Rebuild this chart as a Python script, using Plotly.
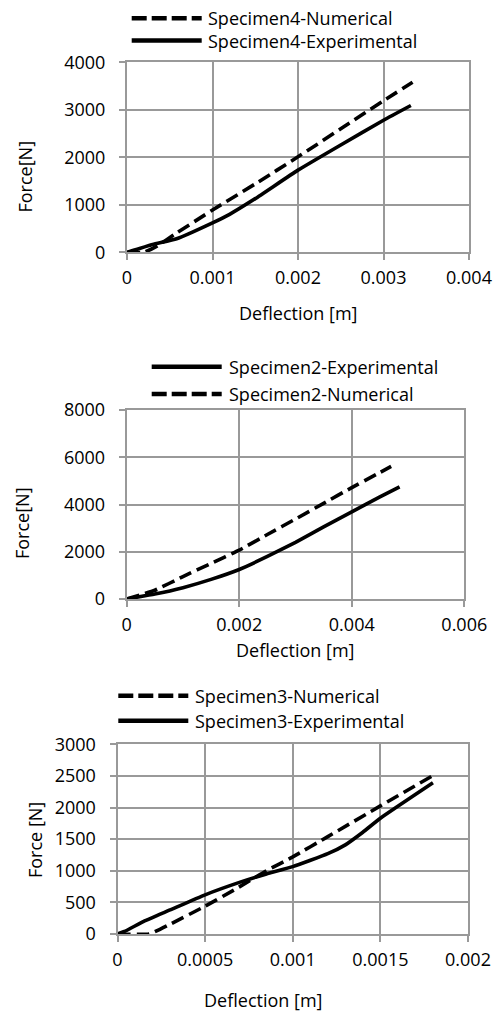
import plotly.graph_objects as go

# ---------------- data ----------------
# Specimen 4 (top chart)
num4_x = [0, 0.0002, 0.00035, 0.00055, 0.001, 0.0015, 0.002, 0.0025, 0.003, 0.00334]
num4_y = [0, 0, 130, 370, 890, 1440, 2010, 2600, 3190, 3580]
exp4_x = [0, 0.0003, 0.00058, 0.001, 0.0012, 0.0015, 0.002, 0.0025, 0.003, 0.00332]
exp4_y = [0, 165, 285, 620, 800, 1130, 1730, 2260, 2780, 3090]

# Specimen 2 (middle chart)
exp2_x = [0, 0.0005, 0.001, 0.0015, 0.002, 0.0025, 0.003, 0.0035, 0.004, 0.0045, 0.00485]
exp2_y = [0, 210, 480, 830, 1250, 1800, 2400, 3050, 3690, 4320, 4750]
num2_x = [0, 0.0005, 0.001, 0.0015, 0.002, 0.0025, 0.003, 0.0035, 0.004, 0.0047]
num2_y = [0, 370, 950, 1510, 2070, 2730, 3385, 4050, 4714, 5610]

# Specimen 3 (bottom chart)
num3_x = [0, 0.00018, 0.0003, 0.0005, 0.00068, 0.00085, 0.001, 0.0012, 0.0015, 0.0018]
num3_y = [0, 0, 155, 440, 720, 1000, 1220, 1540, 2026, 2505]
exp3_x = [0, 0.00004, 0.00015, 0.0003, 0.0005, 0.0007, 0.00085, 0.001, 0.0012, 0.0013, 0.0014, 0.0015, 0.0018]
exp3_y = [0, 40, 200, 380, 620, 820, 950, 1065, 1270, 1410, 1610, 1830, 2390]

# ticks
x1_ticks = [0, 0.001, 0.002, 0.003, 0.004]
x1_labels = ["0", "0.001", "0.002", "0.003", "0.004"]
y1_ticks = [0, 1000, 2000, 3000, 4000]
x2_ticks = [0, 0.002, 0.004, 0.006]
x2_labels = ["0", "0.002", "0.004", "0.006"]
y2_ticks = [0, 2000, 4000, 6000, 8000]
x3_ticks = [0, 0.0005, 0.001, 0.0015, 0.002]
x3_labels = ["0", "0.0005", "0.001", "0.0015", "0.002"]
y3_ticks = [0, 500, 1000, 1500, 2000, 2500, 3000]

# ---------------- figure ----------------
W, H = 500, 1014
FONT = "Open Sans"
GRID = "#999999"
DASH = "13px,6px"

def px(x):
    return x / W

def py(y):
    return 1 - y / H

fig = go.Figure()

def add_line(x, y, name, dashed, xa, ya):
    fig.add_trace(go.Scatter(
        x=x, y=y, name=name, mode="lines", xaxis=xa, yaxis=ya,
        line=dict(color="black", width=3.6, dash=DASH if dashed else "solid",
                  shape="spline", smoothing=0.4),
        showlegend=False, cliponaxis=False,
    ))

add_line(num4_x, num4_y, "Specimen4-Numerical", True, "x", "y")
add_line(exp4_x, exp4_y, "Specimen4-Experimental", False, "x", "y")
add_line(exp2_x, exp2_y, "Specimen2-Experimental", False, "x2", "y2")
add_line(num2_x, num2_y, "Specimen2-Numerical", True, "x2", "y2")
add_line(num3_x, num3_y, "Specimen3-Numerical", True, "x3", "y3")
add_line(exp3_x, exp3_y, "Specimen3-Experimental", False, "x3", "y3")

def axis(domain, rng, tickvals, ticktext=None, anchor=None, standoff=3):
    d = dict(
        domain=domain, range=rng, tickvals=tickvals,
        showgrid=True, gridcolor=GRID, gridwidth=2,
        showline=True, linecolor=GRID, linewidth=2, mirror=True,
        ticks="outside", ticklen=6, tickcolor=GRID, tickwidth=2,
        zeroline=False, ticklabelstandoff=standoff, automargin=False,
        tickfont=dict(family=FONT, size=18, color="black"),
        anchor=anchor, fixedrange=True,
    )
    if ticktext is not None:
        d["ticktext"] = ticktext
    return d

# plot areas (pixel boxes)
boxes = [
    (127.0, 469.0, 62.3, 252.3),
    (126.7, 464.3, 410.0, 599.0),
    (117.5, 468.0, 744.3, 934.0),
]

layout = dict(
    width=W, height=H,
    margin=dict(l=0, r=0, t=0, b=0, autoexpand=False),
    paper_bgcolor="white", plot_bgcolor="white",
    font=dict(family=FONT, size=18, color="black"),
    showlegend=False,
)
xs = [(x1_ticks, x1_labels, [0, 0.004]), (x2_ticks, x2_labels, [0, 0.006]), (x3_ticks, x3_labels, [0, 0.002])]
ys = [(y1_ticks, [0, 4000]), (y2_ticks, [0, 8000]), (y3_ticks, [0, 3000])]
for i, ((l, r, t, b), (xt, xl, xr), (yt, yr)) in enumerate(zip(boxes, xs, ys)):
    sfx = "" if i == 0 else str(i + 1)
    layout["xaxis" + sfx] = axis([px(l), px(r)], xr, xt, xl, anchor="y" + sfx, standoff=2)
    layout["yaxis" + sfx] = axis([py(b), py(t)], yr, yt, anchor="x" + sfx, standoff=10)

fig.update_layout(**layout)

annotations = []
shapes = []

def legend_item(x0, x1, y, tx, text, dashed):
    shapes.append(dict(
        type="line", xref="paper", yref="paper",
        x0=px(x0), x1=px(x1), y0=py(y), y1=py(y),
        line=dict(color="black", width=4.5, dash="15px,5px" if dashed else "solid"),
    ))
    annotations.append(dict(
        xref="paper", yref="paper", x=px(tx), y=py(y), text=text,
        showarrow=False, xanchor="left", yanchor="middle",
        font=dict(family=FONT, size=18, color="black"),
    ))

legend_item(131.7, 201.7, 18.3, 205.5, "Specimen4-Numerical", True)
legend_item(131.7, 201.7, 40.5, 205.5, "Specimen4-Experimental", False)
legend_item(151.7, 221.7, 366.7, 226.5, "Specimen2-Experimental", False)
legend_item(151.7, 221.7, 394.0, 226.5, "Specimen2-Numerical", True)
legend_item(118.3, 188.3, 695.7, 192.5, "Specimen3-Numerical", True)
legend_item(118.3, 188.3, 720.7, 192.5, "Specimen3-Experimental", False)

def title(x, y, text, angle=0):
    annotations.append(dict(
        xref="paper", yref="paper", x=px(x), y=py(y), text=text,
        showarrow=False, xanchor="center", yanchor="middle", textangle=angle,
        font=dict(family=FONT, size=18, color="black"),
    ))

title(298, 313, "Deflection [m]")
title(25, 176.5, "Force[N]", -90)
title(295, 650, "Deflection [m]")
title(22, 523, "Force[N]", -90)
title(263, 1000, "Deflection [m]")
title(35, 840, "Force [N]", -90)

fig.update_layout(annotations=annotations, shapes=shapes)
fig.write_html(
    "out.html",
    config={"displayModeBar": False, "staticPlot": True},
    post_script="document.documentElement.style.margin='0';"
                "document.body.style.margin='0';"
                "document.body.style.overflow='hidden';",
)
